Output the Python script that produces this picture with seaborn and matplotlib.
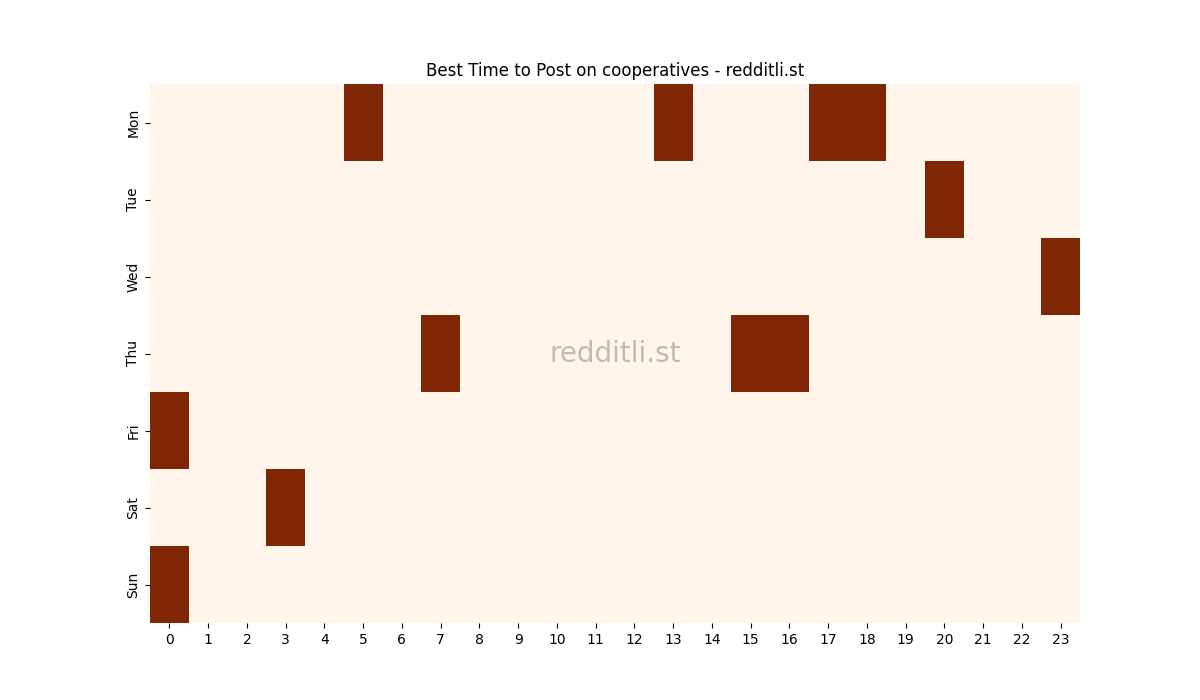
import matplotlib
matplotlib.use("Agg")
import matplotlib.pyplot as plt
import numpy as np
import pandas as pd
import seaborn as sns

days = ["Mon", "Tue", "Wed", "Thu", "Fri", "Sat", "Sun"]
hours = list(range(24))

# best hours per day (value 1 = best, 0 otherwise)
best_mon = [5, 13, 17, 18]
best_tue = [20]
best_wed = [23]
best_thu = [7, 15, 16]
best_fri = [0]
best_sat = [3]
best_sun = [0]

best = [best_mon, best_tue, best_wed, best_thu, best_fri, best_sat, best_sun]
grid = np.zeros((len(days), len(hours)))
for i, hrs in enumerate(best):
    grid[i, hrs] = 1
df = pd.DataFrame(grid, index=days, columns=hours)

fig, ax = plt.subplots(figsize=(12, 7), dpi=100)
sns.heatmap(df, cmap="Oranges", cbar=False, ax=ax)
ax.set_title("Best Time to Post on cooperatives - redditli.st")
ax.text(0.5, 0.5, "redditli.st", transform=ax.transAxes, ha="center", va="center",
        fontsize=20, color="gray", alpha=0.5)
plt.savefig("out.png")
